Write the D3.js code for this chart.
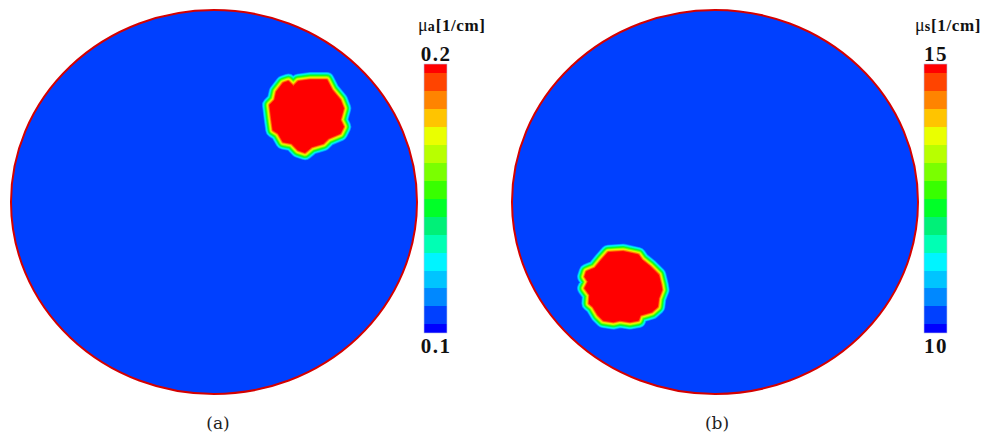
<!DOCTYPE html>
<html><head><meta charset="utf-8">
<script src="https://cdn.jsdelivr.net/npm/d3@7"></script>
<style>
html,body{margin:0;padding:0;background:#fff;}svg{display:block;}
.tnr{font-family:"Liberation Serif","Times New Roman",Times,serif;}
.cap{font-family:"DejaVu Serif",serif;}
</style>
</head><body>
<svg id="c" width="987" height="439"></svg>
<script>
// ---- data ----
const panels = ["(a)", "(b)"];
const quantityNames = ["a", "s"];
const unitsLabel = "[1/cm]";
const rangeA = [0.1, 0.2];          // mu_a colour range
const rangeB = [10, 15];            // mu_s colour range
const tickLabelsA = ["0.1", "0.2"];
const tickLabelsB = ["10", "15"];
const backgroundA = 0.1, inclusionA = 0.2;
const backgroundB = 10, inclusionB = 15;
// contour palette, low -> high (16 flood bands)
const palette = ["#0000ff","#0040ff","#0088ff","#00c4ff","#00f4ff","#00ffb4","#00f078","#00ff28",
                 "#38ff00","#7aff00","#b8ff00","#eaff00","#ffc400","#ff8400","#ff4400","#ff0000"];
// inclusion boundaries, normalised domain coordinates (x,y in [-1,1])
const blobA = [[0.341,0.618],[0.366,0.627],[0.391,0.601],[0.415,0.627],[0.473,0.635],[0.555,0.635],
  [0.580,0.583],[0.621,0.531],[0.637,0.488],[0.621,0.427],[0.637,0.392],[0.621,0.358],[0.563,0.332],
  [0.538,0.306],[0.481,0.288],[0.448,0.259],[0.415,0.271],[0.383,0.306],[0.341,0.314],[0.317,0.358],
  [0.292,0.375],[0.284,0.436],[0.276,0.505],[0.300,0.531],[0.309,0.574]];
const blobB = [[-0.526,-0.264],[-0.452,-0.259],[-0.378,-0.276],[-0.361,-0.302],[-0.320,-0.337],
  [-0.279,-0.380],[-0.267,-0.432],[-0.263,-0.458],[-0.279,-0.502],[-0.284,-0.545],[-0.312,-0.571],
  [-0.369,-0.589],[-0.378,-0.615],[-0.419,-0.623],[-0.468,-0.615],[-0.501,-0.623],[-0.550,-0.615],
  [-0.575,-0.589],[-0.600,-0.545],[-0.619,-0.528],[-0.616,-0.484],[-0.640,-0.449],[-0.624,-0.415],
  [-0.640,-0.389],[-0.632,-0.363],[-0.591,-0.345],[-0.558,-0.302]];

// ---- drawing ----
const svg = d3.select("#c");
const specs = [
  {name: quantityNames[0], range: rangeA, ticks: tickLabelsA, bg: backgroundA, inc: inclusionA, blob: blobA,
   xr: [11, 417], cbx: 424, titleX: 418, cap: panels[0], capX: 218},
  {name: quantityNames[1], range: rangeB, ticks: tickLabelsB, bg: backgroundB, inc: inclusionB, blob: blobB,
   xr: [512, 918], cbx: 924, titleX: 915, cap: panels[1], capX: 717}
];

specs.forEach(p => {
  const x = d3.scaleLinear().domain([-1, 1]).range(p.xr);
  const y = d3.scaleLinear().domain([-1, 1]).range([394, 10]);
  const nLev = palette.length - 1;
  const step = (p.range[1] - p.range[0]) / nLev;
  const colorOf = v => palette[Math.max(0, Math.min(nLev, Math.floor((v - p.range[0]) / step + 1e-9) + 1))];

  const g = svg.append("g");
  g.append("ellipse")
    .attr("cx", x(0)).attr("cy", y(0))
    .attr("rx", x(1) - x(0)).attr("ry", y(-1) - y(0))
    .attr("fill", colorOf(p.bg))
    .attr("stroke", "#d40000").attr("stroke-width", 2);

  const line = d3.line().x(d => x(d[0])).y(d => y(d[1])).curve(d3.curveLinearClosed);
  const path = line(p.blob);
  d3.range(2, nLev).forEach(k => {
    const off = 0.58 * (nLev - k) + 0.5;
    g.append("path").attr("d", path)
      .attr("fill", palette[k]).attr("stroke", palette[k])
      .attr("stroke-width", 2 * off).attr("stroke-linejoin", "round");
  });
  g.append("path").attr("d", path)
    .attr("fill", colorOf(p.inc)).attr("stroke", colorOf(p.inc))
    .attr("stroke-width", 1).attr("stroke-linejoin", "miter");

  const cy = d3.scaleLinear().domain(p.range).range([333, 64]);
  const cb = svg.append("g");
  palette.forEach((c, i) => {
    const v0 = Math.max(p.range[0], p.range[0] + (i - 0.5) * step);
    const v1 = Math.min(p.range[1], p.range[0] + (i + 0.5) * step);
    cb.append("rect").attr("x", p.cbx).attr("width", 23)
      .attr("y", cy(v1)).attr("height", cy(v0) - cy(v1) + 0.3)
      .attr("fill", c).attr("shape-rendering", "crispEdges");
  });
  cb.append("rect").attr("x", p.cbx).attr("width", 23)
    .attr("y", cy(p.range[1])).attr("height", cy(p.range[0]) - cy(p.range[1]))
    .attr("fill", "none").attr("stroke", "#b8c4e8").attr("stroke-width", 0.6);

  cb.append("text").attr("class", "tnr").attr("x", p.cbx + 12).attr("y", cy(p.range[1]) - 3)
    .attr("text-anchor", "middle").attr("font-weight", "bold")
    .attr("font-size", 21).attr("letter-spacing", 1.5).attr("fill", "#111").text(p.ticks[1]);
  cb.append("text").attr("class", "tnr").attr("x", p.cbx + 12).attr("y", cy(p.range[0]) + 20)
    .attr("text-anchor", "middle").attr("font-weight", "bold")
    .attr("font-size", 21).attr("letter-spacing", 1.5).attr("fill", "#111").text(p.ticks[0]);

  const t = cb.append("text").attr("class", "tnr").attr("x", p.titleX).attr("y", 31).attr("fill", "#111");
  t.append("tspan").attr("font-size", 18).text("μ");
  t.append("tspan").attr("font-size", 14).attr("font-weight", "bold").text(p.name);
  t.append("tspan").attr("font-size", 17).attr("font-weight", "bold").attr("letter-spacing", 0.6)
    .attr("dx", 1).text(unitsLabel);

  svg.append("text").attr("class", "cap").attr("x", p.capX).attr("y", 429).attr("text-anchor", "middle")
    .attr("font-size", 17).attr("fill", "#222").text(p.cap);
});
</script>
</body></html>
